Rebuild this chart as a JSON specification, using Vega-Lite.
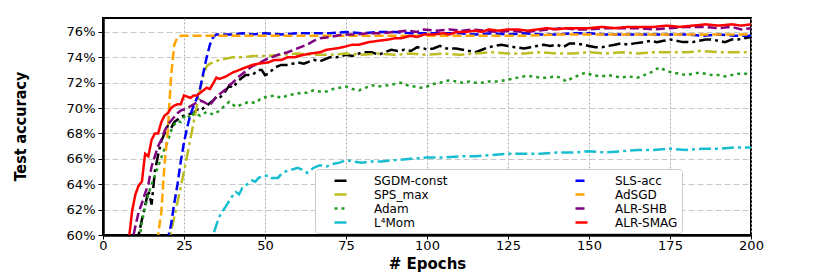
{
"$schema": "https://vega.github.io/schema/vega-lite/v6.json",
"width": 648, "height": 217,
"autosize": {"type": "none"},
"padding": {"left": 103, "top": 18, "right": 79, "bottom": 42},
"background": "white",
"config": {"view": {"stroke": "black", "strokeWidth": 2}, "font": "DejaVu Sans"},
"data": {"values": [
{"m":"SGDM-const","e":9,"a":57},{"m":"SGDM-const","e":11,"a":60},{"m":"SGDM-const","e":12,"a":61.2},{"m":"SGDM-const","e":13,"a":62.3},{"m":"SGDM-const","e":14,"a":63.5},{"m":"SGDM-const","e":15,"a":62.4},{"m":"SGDM-const","e":16,"a":65.0},{"m":"SGDM-const","e":17,"a":66.3},{"m":"SGDM-const","e":18,"a":67.4},{"m":"SGDM-const","e":19,"a":68.0},{"m":"SGDM-const","e":20,"a":68.6},{"m":"SGDM-const","e":21,"a":68.4},{"m":"SGDM-const","e":22,"a":68.9},{"m":"SGDM-const","e":24,"a":69.3},{"m":"SGDM-const","e":26,"a":69.5},{"m":"SGDM-const","e":28,"a":69.6},{"m":"SGDM-const","e":29,"a":69.9},{"m":"SGDM-const","e":30,"a":69.8},{"m":"SGDM-const","e":32,"a":70.2},{"m":"SGDM-const","e":34,"a":70.6},{"m":"SGDM-const","e":35,"a":70.9},{"m":"SGDM-const","e":36,"a":70.8},{"m":"SGDM-const","e":38,"a":71.4},{"m":"SGDM-const","e":39,"a":71.8},{"m":"SGDM-const","e":40,"a":71.6},{"m":"SGDM-const","e":42,"a":72.2},{"m":"SGDM-const","e":44,"a":72.6},{"m":"SGDM-const","e":46,"a":72.6},{"m":"SGDM-const","e":48,"a":73.0},{"m":"SGDM-const","e":49,"a":73.0},{"m":"SGDM-const","e":50,"a":72.6},{"m":"SGDM-const","e":51,"a":72.7},{"m":"SGDM-const","e":53,"a":73.2},{"m":"SGDM-const","e":55,"a":73.4},{"m":"SGDM-const","e":57,"a":73.4},{"m":"SGDM-const","e":60,"a":73.6},{"m":"SGDM-const","e":62,"a":73.5},{"m":"SGDM-const","e":65,"a":73.8},{"m":"SGDM-const","e":67,"a":73.7},{"m":"SGDM-const","e":70,"a":74.0},{"m":"SGDM-const","e":72,"a":74.0},{"m":"SGDM-const","e":75,"a":74.2},{"m":"SGDM-const","e":77,"a":74.1},{"m":"SGDM-const","e":80,"a":74.4},{"m":"SGDM-const","e":83,"a":74.4},{"m":"SGDM-const","e":85,"a":74.2},{"m":"SGDM-const","e":87,"a":74.4},{"m":"SGDM-const","e":89,"a":74.6},{"m":"SGDM-const","e":91,"a":74.5},{"m":"SGDM-const","e":93,"a":74.6},{"m":"SGDM-const","e":95,"a":74.5},{"m":"SGDM-const","e":97,"a":74.8},{"m":"SGDM-const","e":99,"a":74.7},{"m":"SGDM-const","e":100,"a":74.6},{"m":"SGDM-const","e":102,"a":74.7},{"m":"SGDM-const","e":104,"a":74.9},{"m":"SGDM-const","e":106,"a":74.7},{"m":"SGDM-const","e":109,"a":74.7},{"m":"SGDM-const","e":111,"a":74.6},{"m":"SGDM-const","e":113,"a":74.5},{"m":"SGDM-const","e":115,"a":74.4},{"m":"SGDM-const","e":117,"a":74.6},{"m":"SGDM-const","e":119,"a":74.8},{"m":"SGDM-const","e":121,"a":74.9},{"m":"SGDM-const","e":123,"a":75.0},{"m":"SGDM-const","e":125,"a":74.9},{"m":"SGDM-const","e":127,"a":74.8},{"m":"SGDM-const","e":130,"a":74.7},{"m":"SGDM-const","e":132,"a":74.8},{"m":"SGDM-const","e":134,"a":74.9},{"m":"SGDM-const","e":136,"a":75.0},{"m":"SGDM-const","e":138,"a":74.9},{"m":"SGDM-const","e":140,"a":75.0},{"m":"SGDM-const","e":142,"a":74.8},{"m":"SGDM-const","e":144,"a":75.1},{"m":"SGDM-const","e":146,"a":75.1},{"m":"SGDM-const","e":148,"a":75.0},{"m":"SGDM-const","e":150,"a":74.9},{"m":"SGDM-const","e":152,"a":74.8},{"m":"SGDM-const","e":154,"a":74.8},{"m":"SGDM-const","e":156,"a":74.9},{"m":"SGDM-const","e":158,"a":75.0},{"m":"SGDM-const","e":160,"a":75.1},{"m":"SGDM-const","e":162,"a":75.0},{"m":"SGDM-const","e":164,"a":75.1},{"m":"SGDM-const","e":167,"a":75.2},{"m":"SGDM-const","e":169,"a":75.3},{"m":"SGDM-const","e":171,"a":75.2},{"m":"SGDM-const","e":173,"a":75.3},{"m":"SGDM-const","e":175,"a":75.4},{"m":"SGDM-const","e":177,"a":75.3},{"m":"SGDM-const","e":179,"a":75.2},{"m":"SGDM-const","e":182,"a":75.2},{"m":"SGDM-const","e":184,"a":75.3},{"m":"SGDM-const","e":186,"a":75.4},{"m":"SGDM-const","e":188,"a":75.4},{"m":"SGDM-const","e":190,"a":75.3},{"m":"SGDM-const","e":192,"a":75.2},{"m":"SGDM-const","e":194,"a":75.4},{"m":"SGDM-const","e":196,"a":75.4},{"m":"SGDM-const","e":198,"a":75.5},{"m":"SGDM-const","e":200,"a":75.6},
{"m":"SPS_max","e":18,"a":57},{"m":"SPS_max","e":20,"a":59.2},{"m":"SPS_max","e":21,"a":60.3},{"m":"SPS_max","e":22,"a":61.4},{"m":"SPS_max","e":23,"a":62.6},{"m":"SPS_max","e":24,"a":63.8},{"m":"SPS_max","e":25,"a":65.0},{"m":"SPS_max","e":26,"a":66.3},{"m":"SPS_max","e":27,"a":67.6},{"m":"SPS_max","e":28,"a":68.9},{"m":"SPS_max","e":29,"a":70.2},{"m":"SPS_max","e":30,"a":71.5},{"m":"SPS_max","e":31,"a":72.6},{"m":"SPS_max","e":32,"a":73.3},{"m":"SPS_max","e":33,"a":73.5},{"m":"SPS_max","e":34,"a":73.6},{"m":"SPS_max","e":36,"a":73.8},{"m":"SPS_max","e":38,"a":73.9},{"m":"SPS_max","e":40,"a":74.0},{"m":"SPS_max","e":43,"a":74.0},{"m":"SPS_max","e":46,"a":74.1},{"m":"SPS_max","e":50,"a":74.1},{"m":"SPS_max","e":55,"a":74.2},{"m":"SPS_max","e":60,"a":74.3},{"m":"SPS_max","e":65,"a":74.2},{"m":"SPS_max","e":70,"a":74.2},{"m":"SPS_max","e":75,"a":74.3},{"m":"SPS_max","e":80,"a":74.2},{"m":"SPS_max","e":85,"a":74.3},{"m":"SPS_max","e":90,"a":74.2},{"m":"SPS_max","e":95,"a":74.3},{"m":"SPS_max","e":100,"a":74.2},{"m":"SPS_max","e":105,"a":74.3},{"m":"SPS_max","e":110,"a":74.2},{"m":"SPS_max","e":115,"a":74.3},{"m":"SPS_max","e":120,"a":74.4},{"m":"SPS_max","e":125,"a":74.3},{"m":"SPS_max","e":130,"a":74.3},{"m":"SPS_max","e":135,"a":74.4},{"m":"SPS_max","e":140,"a":74.3},{"m":"SPS_max","e":145,"a":74.3},{"m":"SPS_max","e":150,"a":74.4},{"m":"SPS_max","e":155,"a":74.3},{"m":"SPS_max","e":160,"a":74.4},{"m":"SPS_max","e":165,"a":74.3},{"m":"SPS_max","e":170,"a":74.4},{"m":"SPS_max","e":175,"a":74.4},{"m":"SPS_max","e":180,"a":74.4},{"m":"SPS_max","e":185,"a":74.5},{"m":"SPS_max","e":190,"a":74.4},{"m":"SPS_max","e":195,"a":74.4},{"m":"SPS_max","e":200,"a":74.4},
{"m":"Adam","e":10,"a":57.5},{"m":"Adam","e":12,"a":61.0},{"m":"Adam","e":13,"a":62.2},{"m":"Adam","e":14,"a":63.2},{"m":"Adam","e":15,"a":64.0},{"m":"Adam","e":16,"a":64.7},{"m":"Adam","e":17,"a":65.4},{"m":"Adam","e":18,"a":66.1},{"m":"Adam","e":19,"a":66.8},{"m":"Adam","e":20,"a":67.4},{"m":"Adam","e":21,"a":68.2},{"m":"Adam","e":22,"a":68.7},{"m":"Adam","e":23,"a":69.0},{"m":"Adam","e":24,"a":68.9},{"m":"Adam","e":25,"a":69.3},{"m":"Adam","e":26,"a":69.5},{"m":"Adam","e":27,"a":69.2},{"m":"Adam","e":28,"a":69.6},{"m":"Adam","e":30,"a":69.4},{"m":"Adam","e":32,"a":69.7},{"m":"Adam","e":34,"a":69.5},{"m":"Adam","e":36,"a":69.8},{"m":"Adam","e":38,"a":70.3},{"m":"Adam","e":39,"a":70.5},{"m":"Adam","e":41,"a":70.1},{"m":"Adam","e":43,"a":70.3},{"m":"Adam","e":45,"a":70.5},{"m":"Adam","e":47,"a":70.4},{"m":"Adam","e":49,"a":70.8},{"m":"Adam","e":51,"a":70.9},{"m":"Adam","e":53,"a":71.0},{"m":"Adam","e":55,"a":70.8},{"m":"Adam","e":57,"a":71.0},{"m":"Adam","e":59,"a":71.1},{"m":"Adam","e":61,"a":71.2},{"m":"Adam","e":63,"a":71.2},{"m":"Adam","e":65,"a":71.4},{"m":"Adam","e":67,"a":71.3},{"m":"Adam","e":69,"a":71.3},{"m":"Adam","e":71,"a":71.5},{"m":"Adam","e":73,"a":71.6},{"m":"Adam","e":75,"a":71.7},{"m":"Adam","e":77,"a":71.5},{"m":"Adam","e":79,"a":71.4},{"m":"Adam","e":81,"a":71.6},{"m":"Adam","e":83,"a":71.8},{"m":"Adam","e":85,"a":71.7},{"m":"Adam","e":88,"a":71.8},{"m":"Adam","e":90,"a":71.9},{"m":"Adam","e":92,"a":72.0},{"m":"Adam","e":94,"a":71.8},{"m":"Adam","e":96,"a":71.7},{"m":"Adam","e":98,"a":71.6},{"m":"Adam","e":100,"a":71.7},{"m":"Adam","e":102,"a":71.9},{"m":"Adam","e":104,"a":72.0},{"m":"Adam","e":107,"a":72.2},{"m":"Adam","e":109,"a":72.1},{"m":"Adam","e":111,"a":72.0},{"m":"Adam","e":113,"a":72.1},{"m":"Adam","e":115,"a":72.0},{"m":"Adam","e":117,"a":72.0},{"m":"Adam","e":119,"a":72.1},{"m":"Adam","e":122,"a":72.1},{"m":"Adam","e":124,"a":72.2},{"m":"Adam","e":126,"a":72.3},{"m":"Adam","e":128,"a":72.4},{"m":"Adam","e":130,"a":72.5},{"m":"Adam","e":132,"a":72.5},{"m":"Adam","e":135,"a":72.4},{"m":"Adam","e":137,"a":72.4},{"m":"Adam","e":140,"a":72.5},{"m":"Adam","e":141,"a":72.4},{"m":"Adam","e":143,"a":72.1},{"m":"Adam","e":145,"a":72.4},{"m":"Adam","e":147,"a":72.6},{"m":"Adam","e":149,"a":72.8},{"m":"Adam","e":151,"a":72.6},{"m":"Adam","e":154,"a":72.5},{"m":"Adam","e":156,"a":72.6},{"m":"Adam","e":158,"a":72.5},{"m":"Adam","e":160,"a":72.4},{"m":"Adam","e":162,"a":72.5},{"m":"Adam","e":165,"a":72.4},{"m":"Adam","e":167,"a":72.6},{"m":"Adam","e":169,"a":72.8},{"m":"Adam","e":171,"a":73.1},{"m":"Adam","e":172,"a":73.2},{"m":"Adam","e":174,"a":72.9},{"m":"Adam","e":176,"a":72.8},{"m":"Adam","e":178,"a":72.7},{"m":"Adam","e":180,"a":72.6},{"m":"Adam","e":182,"a":72.7},{"m":"Adam","e":184,"a":72.8},{"m":"Adam","e":186,"a":72.7},{"m":"Adam","e":188,"a":72.6},{"m":"Adam","e":190,"a":72.6},{"m":"Adam","e":192,"a":72.5},{"m":"Adam","e":194,"a":72.6},{"m":"Adam","e":196,"a":72.7},{"m":"Adam","e":198,"a":72.7},{"m":"Adam","e":200,"a":72.7},
{"m":"L⁴Mom","e":32,"a":58.5},{"m":"L⁴Mom","e":34,"a":60.0},{"m":"L⁴Mom","e":35,"a":60.8},{"m":"L⁴Mom","e":36,"a":61.5},{"m":"L⁴Mom","e":37,"a":61.9},{"m":"L⁴Mom","e":38,"a":62.3},{"m":"L⁴Mom","e":39,"a":62.7},{"m":"L⁴Mom","e":40,"a":63.1},{"m":"L⁴Mom","e":41,"a":63.4},{"m":"L⁴Mom","e":42,"a":63.2},{"m":"L⁴Mom","e":43,"a":63.7},{"m":"L⁴Mom","e":44,"a":63.9},{"m":"L⁴Mom","e":45,"a":64.1},{"m":"L⁴Mom","e":46,"a":64.3},{"m":"L⁴Mom","e":47,"a":64.2},{"m":"L⁴Mom","e":48,"a":64.5},{"m":"L⁴Mom","e":49,"a":64.6},{"m":"L⁴Mom","e":51,"a":64.7},{"m":"L⁴Mom","e":52,"a":64.5},{"m":"L⁴Mom","e":54,"a":64.5},{"m":"L⁴Mom","e":55,"a":64.8},{"m":"L⁴Mom","e":57,"a":65.1},{"m":"L⁴Mom","e":59,"a":65.2},{"m":"L⁴Mom","e":60,"a":65.3},{"m":"L⁴Mom","e":62,"a":65.1},{"m":"L⁴Mom","e":63,"a":64.9},{"m":"L⁴Mom","e":65,"a":65.3},{"m":"L⁴Mom","e":67,"a":65.5},{"m":"L⁴Mom","e":69,"a":65.4},{"m":"L⁴Mom","e":71,"a":65.6},{"m":"L⁴Mom","e":73,"a":65.7},{"m":"L⁴Mom","e":75,"a":65.9},{"m":"L⁴Mom","e":77,"a":65.8},{"m":"L⁴Mom","e":80,"a":65.7},{"m":"L⁴Mom","e":83,"a":65.8},{"m":"L⁴Mom","e":86,"a":65.8},{"m":"L⁴Mom","e":90,"a":65.9},{"m":"L⁴Mom","e":95,"a":66.0},{"m":"L⁴Mom","e":100,"a":66.1},{"m":"L⁴Mom","e":105,"a":66.1},{"m":"L⁴Mom","e":110,"a":66.2},{"m":"L⁴Mom","e":115,"a":66.2},{"m":"L⁴Mom","e":120,"a":66.3},{"m":"L⁴Mom","e":125,"a":66.4},{"m":"L⁴Mom","e":130,"a":66.4},{"m":"L⁴Mom","e":135,"a":66.4},{"m":"L⁴Mom","e":140,"a":66.5},{"m":"L⁴Mom","e":145,"a":66.5},{"m":"L⁴Mom","e":150,"a":66.6},{"m":"L⁴Mom","e":155,"a":66.5},{"m":"L⁴Mom","e":160,"a":66.6},{"m":"L⁴Mom","e":165,"a":66.7},{"m":"L⁴Mom","e":170,"a":66.7},{"m":"L⁴Mom","e":175,"a":66.8},{"m":"L⁴Mom","e":180,"a":66.7},{"m":"L⁴Mom","e":185,"a":66.8},{"m":"L⁴Mom","e":190,"a":66.8},{"m":"L⁴Mom","e":195,"a":66.9},{"m":"L⁴Mom","e":200,"a":66.9},
{"m":"SLS-acc","e":18,"a":57.5},{"m":"SLS-acc","e":20,"a":59.7},{"m":"SLS-acc","e":21,"a":60.8},{"m":"SLS-acc","e":22,"a":62.5},{"m":"SLS-acc","e":23,"a":64.0},{"m":"SLS-acc","e":24,"a":65.8},{"m":"SLS-acc","e":25,"a":67.3},{"m":"SLS-acc","e":26,"a":68.5},{"m":"SLS-acc","e":27,"a":69.5},{"m":"SLS-acc","e":28,"a":70.2},{"m":"SLS-acc","e":29,"a":70.8},{"m":"SLS-acc","e":30,"a":71.6},{"m":"SLS-acc","e":31,"a":72.8},{"m":"SLS-acc","e":32,"a":74.0},{"m":"SLS-acc","e":33,"a":75.0},{"m":"SLS-acc","e":34,"a":75.6},{"m":"SLS-acc","e":35,"a":75.8},{"m":"SLS-acc","e":37,"a":75.8},{"m":"SLS-acc","e":40,"a":75.8},{"m":"SLS-acc","e":43,"a":75.9},{"m":"SLS-acc","e":46,"a":75.8},{"m":"SLS-acc","e":50,"a":75.9},{"m":"SLS-acc","e":55,"a":75.8},{"m":"SLS-acc","e":60,"a":75.9},{"m":"SLS-acc","e":65,"a":75.9},{"m":"SLS-acc","e":70,"a":75.9},{"m":"SLS-acc","e":75,"a":76.0},{"m":"SLS-acc","e":80,"a":75.9},{"m":"SLS-acc","e":85,"a":76.0},{"m":"SLS-acc","e":90,"a":76.0},{"m":"SLS-acc","e":95,"a":75.9},{"m":"SLS-acc","e":100,"a":75.9},{"m":"SLS-acc","e":105,"a":75.9},{"m":"SLS-acc","e":110,"a":75.9},{"m":"SLS-acc","e":115,"a":75.8},{"m":"SLS-acc","e":120,"a":75.9},{"m":"SLS-acc","e":125,"a":75.8},{"m":"SLS-acc","e":130,"a":75.9},{"m":"SLS-acc","e":135,"a":75.8},{"m":"SLS-acc","e":140,"a":75.8},{"m":"SLS-acc","e":145,"a":75.9},{"m":"SLS-acc","e":150,"a":75.9},{"m":"SLS-acc","e":155,"a":75.8},{"m":"SLS-acc","e":160,"a":75.8},{"m":"SLS-acc","e":165,"a":75.8},{"m":"SLS-acc","e":170,"a":75.8},{"m":"SLS-acc","e":175,"a":75.8},{"m":"SLS-acc","e":180,"a":75.8},{"m":"SLS-acc","e":185,"a":75.7},{"m":"SLS-acc","e":190,"a":75.8},{"m":"SLS-acc","e":195,"a":75.7},{"m":"SLS-acc","e":200,"a":75.7},
{"m":"AdSGD","e":15,"a":57.5},{"m":"AdSGD","e":17,"a":60.0},{"m":"AdSGD","e":18,"a":61.8},{"m":"AdSGD","e":19,"a":65.6},{"m":"AdSGD","e":20,"a":68.2},{"m":"AdSGD","e":21,"a":72.5},{"m":"AdSGD","e":22,"a":75.0},{"m":"AdSGD","e":23,"a":75.6},{"m":"AdSGD","e":24,"a":75.7},{"m":"AdSGD","e":30,"a":75.7},{"m":"AdSGD","e":40,"a":75.7},{"m":"AdSGD","e":50,"a":75.7},{"m":"AdSGD","e":60,"a":75.7},{"m":"AdSGD","e":70,"a":75.7},{"m":"AdSGD","e":80,"a":75.7},{"m":"AdSGD","e":90,"a":75.7},{"m":"AdSGD","e":100,"a":75.7},{"m":"AdSGD","e":110,"a":75.7},{"m":"AdSGD","e":120,"a":75.7},{"m":"AdSGD","e":130,"a":75.7},{"m":"AdSGD","e":140,"a":75.8},{"m":"AdSGD","e":150,"a":75.8},{"m":"AdSGD","e":160,"a":75.8},{"m":"AdSGD","e":170,"a":75.8},{"m":"AdSGD","e":180,"a":75.8},{"m":"AdSGD","e":190,"a":75.8},{"m":"AdSGD","e":200,"a":75.8},
{"m":"ALR-SHB","e":8,"a":57},{"m":"ALR-SHB","e":9,"a":59.5},{"m":"ALR-SHB","e":10,"a":60.7},{"m":"ALR-SHB","e":11,"a":61.8},{"m":"ALR-SHB","e":12,"a":62.5},{"m":"ALR-SHB","e":13,"a":63.3},{"m":"ALR-SHB","e":14,"a":64.0},{"m":"ALR-SHB","e":15,"a":65.4},{"m":"ALR-SHB","e":16,"a":66.2},{"m":"ALR-SHB","e":17,"a":67.0},{"m":"ALR-SHB","e":18,"a":67.5},{"m":"ALR-SHB","e":19,"a":68.2},{"m":"ALR-SHB","e":20,"a":68.7},{"m":"ALR-SHB","e":21,"a":69.0},{"m":"ALR-SHB","e":22,"a":69.3},{"m":"ALR-SHB","e":23,"a":69.6},{"m":"ALR-SHB","e":24,"a":69.8},{"m":"ALR-SHB","e":26,"a":70.0},{"m":"ALR-SHB","e":28,"a":70.3},{"m":"ALR-SHB","e":30,"a":70.6},{"m":"ALR-SHB","e":31,"a":70.5},{"m":"ALR-SHB","e":33,"a":70.2},{"m":"ALR-SHB","e":34,"a":70.6},{"m":"ALR-SHB","e":36,"a":71.1},{"m":"ALR-SHB","e":38,"a":71.5},{"m":"ALR-SHB","e":39,"a":71.8},{"m":"ALR-SHB","e":40,"a":72.0},{"m":"ALR-SHB","e":42,"a":72.5},{"m":"ALR-SHB","e":44,"a":72.9},{"m":"ALR-SHB","e":46,"a":73.3},{"m":"ALR-SHB","e":48,"a":73.5},{"m":"ALR-SHB","e":50,"a":73.8},{"m":"ALR-SHB","e":52,"a":74.0},{"m":"ALR-SHB","e":54,"a":74.2},{"m":"ALR-SHB","e":57,"a":74.4},{"m":"ALR-SHB","e":60,"a":74.7},{"m":"ALR-SHB","e":63,"a":75.0},{"m":"ALR-SHB","e":65,"a":75.3},{"m":"ALR-SHB","e":67,"a":75.5},{"m":"ALR-SHB","e":70,"a":75.6},{"m":"ALR-SHB","e":74,"a":75.8},{"m":"ALR-SHB","e":78,"a":75.8},{"m":"ALR-SHB","e":82,"a":75.9},{"m":"ALR-SHB","e":86,"a":75.9},{"m":"ALR-SHB","e":90,"a":76.0},{"m":"ALR-SHB","e":94,"a":76.1},{"m":"ALR-SHB","e":97,"a":76.0},{"m":"ALR-SHB","e":99,"a":76.2},{"m":"ALR-SHB","e":103,"a":76.1},{"m":"ALR-SHB","e":107,"a":76.2},{"m":"ALR-SHB","e":111,"a":76.1},{"m":"ALR-SHB","e":114,"a":76.2},{"m":"ALR-SHB","e":118,"a":76.1},{"m":"ALR-SHB","e":122,"a":76.0},{"m":"ALR-SHB","e":126,"a":76.1},{"m":"ALR-SHB","e":130,"a":76.0},{"m":"ALR-SHB","e":134,"a":76.1},{"m":"ALR-SHB","e":138,"a":76.2},{"m":"ALR-SHB","e":142,"a":76.3},{"m":"ALR-SHB","e":146,"a":76.2},{"m":"ALR-SHB","e":150,"a":76.2},{"m":"ALR-SHB","e":155,"a":76.3},{"m":"ALR-SHB","e":160,"a":76.3},{"m":"ALR-SHB","e":165,"a":76.3},{"m":"ALR-SHB","e":170,"a":76.2},{"m":"ALR-SHB","e":175,"a":76.3},{"m":"ALR-SHB","e":180,"a":76.4},{"m":"ALR-SHB","e":185,"a":76.4},{"m":"ALR-SHB","e":190,"a":76.3},{"m":"ALR-SHB","e":194,"a":76.4},{"m":"ALR-SHB","e":197,"a":76.2},{"m":"ALR-SHB","e":200,"a":76.3},
{"m":"ALR-SMAG","e":7,"a":57},{"m":"ALR-SMAG","e":8,"a":59.7},{"m":"ALR-SMAG","e":9,"a":61.9},{"m":"ALR-SMAG","e":10,"a":63.2},{"m":"ALR-SMAG","e":11,"a":63.9},{"m":"ALR-SMAG","e":12,"a":64.2},{"m":"ALR-SMAG","e":13,"a":66.4},{"m":"ALR-SMAG","e":14,"a":66.2},{"m":"ALR-SMAG","e":15,"a":67.5},{"m":"ALR-SMAG","e":16,"a":68.0},{"m":"ALR-SMAG","e":17,"a":68.0},{"m":"ALR-SMAG","e":18,"a":68.9},{"m":"ALR-SMAG","e":19,"a":69.4},{"m":"ALR-SMAG","e":20,"a":69.6},{"m":"ALR-SMAG","e":21,"a":70.0},{"m":"ALR-SMAG","e":22,"a":70.2},{"m":"ALR-SMAG","e":23,"a":70.3},{"m":"ALR-SMAG","e":24,"a":70.3},{"m":"ALR-SMAG","e":25,"a":71.0},{"m":"ALR-SMAG","e":26,"a":70.9},{"m":"ALR-SMAG","e":27,"a":70.8},{"m":"ALR-SMAG","e":28,"a":71.0},{"m":"ALR-SMAG","e":29,"a":71.0},{"m":"ALR-SMAG","e":30,"a":71.2},{"m":"ALR-SMAG","e":32,"a":71.6},{"m":"ALR-SMAG","e":33,"a":71.5},{"m":"ALR-SMAG","e":35,"a":72.4},{"m":"ALR-SMAG","e":36,"a":72.3},{"m":"ALR-SMAG","e":38,"a":72.5},{"m":"ALR-SMAG","e":40,"a":72.8},{"m":"ALR-SMAG","e":41,"a":72.9},{"m":"ALR-SMAG","e":43,"a":73.1},{"m":"ALR-SMAG","e":46,"a":73.4},{"m":"ALR-SMAG","e":48,"a":73.5},{"m":"ALR-SMAG","e":51,"a":73.6},{"m":"ALR-SMAG","e":53,"a":73.8},{"m":"ALR-SMAG","e":55,"a":73.8},{"m":"ALR-SMAG","e":57,"a":74.0},{"m":"ALR-SMAG","e":59,"a":74.0},{"m":"ALR-SMAG","e":62,"a":74.2},{"m":"ALR-SMAG","e":64,"a":74.3},{"m":"ALR-SMAG","e":67,"a":74.4},{"m":"ALR-SMAG","e":69,"a":74.6},{"m":"ALR-SMAG","e":72,"a":74.7},{"m":"ALR-SMAG","e":74,"a":74.8},{"m":"ALR-SMAG","e":77,"a":75.0},{"m":"ALR-SMAG","e":79,"a":75.0},{"m":"ALR-SMAG","e":82,"a":75.2},{"m":"ALR-SMAG","e":85,"a":75.3},{"m":"ALR-SMAG","e":88,"a":75.4},{"m":"ALR-SMAG","e":90,"a":75.5},{"m":"ALR-SMAG","e":92,"a":75.5},{"m":"ALR-SMAG","e":95,"a":75.7},{"m":"ALR-SMAG","e":97,"a":75.6},{"m":"ALR-SMAG","e":99,"a":75.8},{"m":"ALR-SMAG","e":102,"a":75.8},{"m":"ALR-SMAG","e":105,"a":75.9},{"m":"ALR-SMAG","e":107,"a":75.8},{"m":"ALR-SMAG","e":109,"a":76.0},{"m":"ALR-SMAG","e":112,"a":76.0},{"m":"ALR-SMAG","e":115,"a":76.1},{"m":"ALR-SMAG","e":117,"a":76.0},{"m":"ALR-SMAG","e":119,"a":76.2},{"m":"ALR-SMAG","e":122,"a":76.1},{"m":"ALR-SMAG","e":125,"a":76.2},{"m":"ALR-SMAG","e":128,"a":76.2},{"m":"ALR-SMAG","e":131,"a":76.1},{"m":"ALR-SMAG","e":134,"a":76.2},{"m":"ALR-SMAG","e":137,"a":76.3},{"m":"ALR-SMAG","e":140,"a":76.2},{"m":"ALR-SMAG","e":143,"a":76.3},{"m":"ALR-SMAG","e":146,"a":76.3},{"m":"ALR-SMAG","e":150,"a":76.3},{"m":"ALR-SMAG","e":154,"a":76.4},{"m":"ALR-SMAG","e":158,"a":76.3},{"m":"ALR-SMAG","e":162,"a":76.4},{"m":"ALR-SMAG","e":166,"a":76.4},{"m":"ALR-SMAG","e":170,"a":76.4},{"m":"ALR-SMAG","e":174,"a":76.5},{"m":"ALR-SMAG","e":178,"a":76.4},{"m":"ALR-SMAG","e":182,"a":76.5},{"m":"ALR-SMAG","e":186,"a":76.6},{"m":"ALR-SMAG","e":190,"a":76.5},{"m":"ALR-SMAG","e":194,"a":76.6},{"m":"ALR-SMAG","e":197,"a":76.5},{"m":"ALR-SMAG","e":200,"a":76.6}
]},
"encoding": {
 "x": {"field": "e", "type": "quantitative",
  "scale": {"domain": [0, 200], "nice": false},
  "axis": {"values": [0,25,50,75,100,125,150,175,200], "title": "# Epochs",
   "titleFont": "DejaVu Sans", "titleFontSize": 15, "titleFontWeight": "bold", "titleColor": "black",
   "titleBaseline": "middle", "titleY": 28,
   "labelFontSize": 13, "labelColor": "black", "labelPadding": 0, "labelFlush": false,
   "tickSize": 4, "tickColor": "black", "tickWidth": 1,
   "domainColor": "black", "domainWidth": 2.5,
   "grid": true, "gridColor": "#aaaaaa", "gridDash": [2, 2], "gridWidth": 1}},
 "y": {"field": "a", "type": "quantitative",
  "scale": {"domain": [60, 77.1], "nice": false, "zero": false},
  "axis": {"values": [60,62,64,66,68,70,72,74,76], "labelExpr": "datum.value + '%'", "title": "Test accuracy",
   "titleFont": "'DejaVu Sans Condensed', 'Liberation Sans', sans-serif", "titleFontSize": 16, "titleFontWeight": "bold", "titleColor": "black",
   "titleBaseline": "middle", "titleX": -83, "titleY": 108,
   "labelFontSize": 13, "labelColor": "black", "labelPadding": 3,
   "tickSize": 5, "tickColor": "black", "tickWidth": 1,
   "domainColor": "black", "domainWidth": 2.5,
   "grid": true, "gridColor": "#c8c8c8", "gridDash": [6, 3], "gridWidth": 1}},
 "color": {"field": "m", "type": "nominal",
  "scale": {"domain": ["SGDM-const","SPS_max","Adam","L⁴Mom","SLS-acc","AdSGD","ALR-SHB","ALR-SMAG"],
   "range": ["#000000","#bcbd22","#239b23","#17becf","#0000ff","#ffa500","#800080","#ff0000"]},
  "legend": {"title": null, "orient": "none", "legendX": 212, "legendY": 151, "columns": 2, "columnPadding": 112, "rowPadding": 0, "padding": 4,
   "symbolType": "stroke", "symbolSize": 144, "symbolStrokeWidth": 2.5, "symbolOffset": 14,
   "labelFontSize": 12, "labelOffset": 26, "labelColor": "black", "labelFont": "DejaVu Sans",
   "fillColor": "white", "strokeColor": "#cccccc", "cornerRadius": 3}},
 "strokeDash": {"field": "m", "type": "nominal",
  "scale": {"domain": ["SGDM-const","SPS_max","Adam","L⁴Mom","SLS-acc","AdSGD","ALR-SHB","ALR-SMAG"],
   "range": [[12,4,3,4],[12,4,3,4],[3,4],[12,4,3,4],[9,4],[9,4],[9,4],[1,0]]},
  "legend": {"title": null, "orient": "none", "legendX": 212, "legendY": 151, "columns": 2, "columnPadding": 112, "rowPadding": 0, "padding": 4,
   "symbolType": "stroke", "symbolSize": 144, "symbolStrokeWidth": 2.5, "symbolOffset": 14,
   "labelFontSize": 12, "labelOffset": 26, "labelColor": "black", "labelFont": "DejaVu Sans",
   "fillColor": "white", "strokeColor": "#cccccc", "cornerRadius": 3}}
},
"layer": [
 {"transform": [{"filter": "datum.m === 'SGDM-const'"}], "mark": {"type": "line", "clip": true, "strokeWidth": 2.5}},
 {"transform": [{"filter": "datum.m === 'SPS_max'"}], "mark": {"type": "line", "clip": true, "strokeWidth": 2.5}},
 {"transform": [{"filter": "datum.m === 'Adam'"}], "mark": {"type": "line", "clip": true, "strokeWidth": 2.5}},
 {"transform": [{"filter": "datum.m === 'L⁴Mom'"}], "mark": {"type": "line", "clip": true, "strokeWidth": 2.5}},
 {"transform": [{"filter": "datum.m === 'SLS-acc'"}], "mark": {"type": "line", "clip": true, "strokeWidth": 2.5}},
 {"transform": [{"filter": "datum.m === 'AdSGD'"}], "mark": {"type": "line", "clip": true, "strokeWidth": 2.5}},
 {"transform": [{"filter": "datum.m === 'ALR-SHB'"}], "mark": {"type": "line", "clip": true, "strokeWidth": 2.5}},
 {"transform": [{"filter": "datum.m === 'ALR-SMAG'"}], "mark": {"type": "line", "clip": true, "strokeWidth": 2.5}}
]
}
